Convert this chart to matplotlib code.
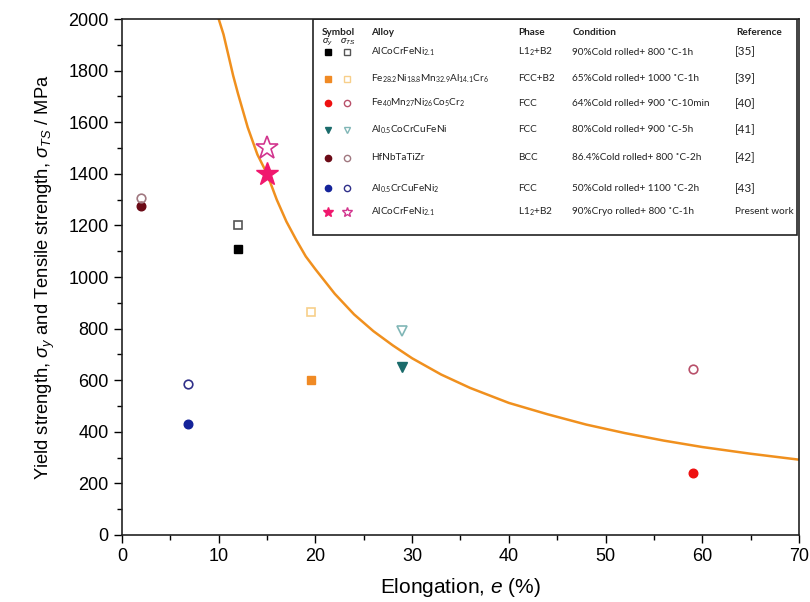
import numpy as np
import matplotlib
matplotlib.use("Agg")
from matplotlib import pyplot as plt

plt.rcParams['font.family'] = ['Liberation Sans', 'DejaVu Sans']
plt.rcParams['mathtext.fontset'] = 'custom'
plt.rcParams['mathtext.rm'] = 'Liberation Sans'
plt.rcParams['mathtext.it'] = 'Liberation Sans:italic'
plt.rcParams['mathtext.default'] = 'regular'

# data
alloys = ["AlCoCrFeNi$_{2.1}$",
          "Fe$_{28.2}$Ni$_{18.8}$Mn$_{32.9}$Al$_{14.1}$Cr$_6$",
          "Fe$_{40}$Mn$_{27}$Ni$_{26}$Co$_5$Cr$_2$",
          "Al$_{0.5}$CoCrCuFeNi",
          "HfNbTaTiZr",
          "Al$_{0.5}$CrCuFeNi$_2$",
          "AlCoCrFeNi$_{2.1}$"]
phases = ["L1$_2$+B2", "FCC+B2", "FCC", "FCC", "BCC", "FCC", "L1$_2$+B2"]
conditions = ["90%Cold rolled+ 800 \u02daC-1h",
              "65%Cold rolled+ 1000 \u02daC-1h",
              "64%Cold rolled+ 900 \u02daC-10min",
              "80%Cold rolled+ 900 \u02daC-5h",
              "86.4%Cold rolled+ 800 \u02daC-2h",
              "50%Cold rolled+ 1100 \u02daC-2h",
              "90%Cryo rolled+ 800 \u02daC-1h"]
refs = ["[35]", "[39]", "[40]", "[41]", "[42]", "[43]", "Present work"]
elong = [12, 19.5, 59, 29, 2, 6.8, 15]
yield_s = [1110, 600, 240, 650, 1275, 430, 1400]
tensile = [1200, 865, 645, 790, 1305, 585, 1500]

# styles
markers = ['s', 's', 'o', 'v', 'o', 'o', '*']
fill_cols = ['#000000', '#f08a24', '#ee1010', '#1a6b6b', '#6b0a16', '#14239a', '#f0186e']
open_cols = ['#555555', '#f7cf8a', '#b8506a', '#80b6b6', '#a07880', '#30308a', '#d2358e']
msizes = [5.6, 5.6, 6.2, 7, 6.2, 6.2, 17]

# orange trend curve
curve_x = [10.0, 10.5, 11, 11.5, 12, 13, 14, 15, 16, 17, 18, 19, 20, 22, 24, 26, 28, 30,
           33, 36, 40, 44, 48, 52, 56, 60, 65, 70]
curve_y = [2000, 1940, 1860, 1780, 1710, 1580, 1475, 1400, 1300, 1215, 1145, 1080, 1030,
           935, 855, 790, 735, 685, 622, 570, 512, 468, 428, 395, 366, 341, 315, 292]

fig = plt.figure(figsize=(8.1, 6.02), dpi=100)
ax = fig.add_axes([0.1506, 0.1113, 0.8358, 0.8571])

ax.plot(curve_x, curve_y, color='#f0901e', lw=1.8, zorder=2, solid_joinstyle='round')

for i in range(len(elong)):
    ax.plot(elong[i], yield_s[i], marker=markers[i], ms=msizes[i], color=fill_cols[i],
            mec=fill_cols[i], ls='', zorder=3)
    ax.plot(elong[i], tensile[i], marker=markers[i], ms=msizes[i], mfc='none',
            mec=open_cols[i], mew=1.2, ls='', zorder=3)

ax.set_xlim(0, 70)
ax.set_ylim(0, 2000)
ax.set_xticks(np.arange(0, 71, 10))
ax.set_yticks(np.arange(0, 2001, 200))
ax.set_xticks(np.arange(0, 71, 5), minor=True)
ax.set_yticks(np.arange(0, 2001, 100), minor=True)
ax.tick_params(which='both', direction='out', top=False, right=False, labelsize=13, width=1)
ax.tick_params(which='major', length=6)
ax.tick_params(which='minor', length=3.5)
for s in ax.spines.values():
    s.set_linewidth(1.2)
    s.set_color('#222222')

ax.set_xlabel("Elongation, $\\mathit{e}$ (%)", fontsize=15, labelpad=8)
ax.set_ylabel("Yield strength, $\\mathit{\\sigma_y}$ and Tensile strength, $\\mathit{\\sigma_{TS}}$ / MPa",
              fontsize=13.2, labelpad=8)

# table-like legend box at upper right
tb = ax.transAxes
box = plt.Rectangle((0.282, 0.581), 0.715, 0.419, transform=tb, fill=False,
                    ec='#222222', lw=1.2, zorder=4)
ax.add_patch(box)
tf = dict(family=['Lato', 'DejaVu Sans'], fontsize=7.2, color='#222222', va='center', transform=tb)
head_y = 0.973
ax.text(0.319, head_y, "Symbol", ha='center', fontweight='bold', **tf)
ax.text(0.368, head_y, "Alloy", ha='left', fontweight='bold', **tf)
ax.text(0.585, head_y, "Phase", ha='left', fontweight='bold', **tf)
ax.text(0.665, head_y, "Condition", ha='left', fontweight='bold', **tf)
ax.text(0.907, head_y, "Reference", ha='left', fontweight='bold', **tf)
ax.text(0.304, 0.955, "$\\mathit{\\sigma_y}$", ha='center', family='Liberation Sans',
        fontsize=6.5, va='center', transform=tb)
ax.text(0.333, 0.955, "$\\mathit{\\sigma_{TS}}$", ha='center', family='Liberation Sans',
        fontsize=6.5, va='center', transform=tb)

row_y = [0.936, 0.884, 0.837, 0.785, 0.731, 0.672, 0.626]
for i in range(len(alloys)):
    yy = row_y[i]
    small = 7.5 if markers[i] == '*' else 4.5
    ax.plot(0.304, yy, marker=markers[i], ms=small, color=fill_cols[i], ls='',
            transform=tb, clip_on=False, zorder=5)
    ax.plot(0.332, yy, marker=markers[i], ms=small, mfc='none', mec=open_cols[i],
            mew=1, ls='', transform=tb, clip_on=False, zorder=5)
    ax.text(0.368, yy, alloys[i], ha='left', **tf)
    ax.text(0.585, yy, phases[i], ha='left', **tf)
    ax.text(0.665, yy, conditions[i], ha='left', **tf)
    rsize = 7.2 if refs[i] == "Present work" else 8.5
    ax.text(0.905, yy, refs[i], ha='left', family=['Lato', 'DejaVu Sans'], fontsize=rsize,
            color='#222222', va='center', transform=tb)

fig.savefig("out.png", dpi=100)
